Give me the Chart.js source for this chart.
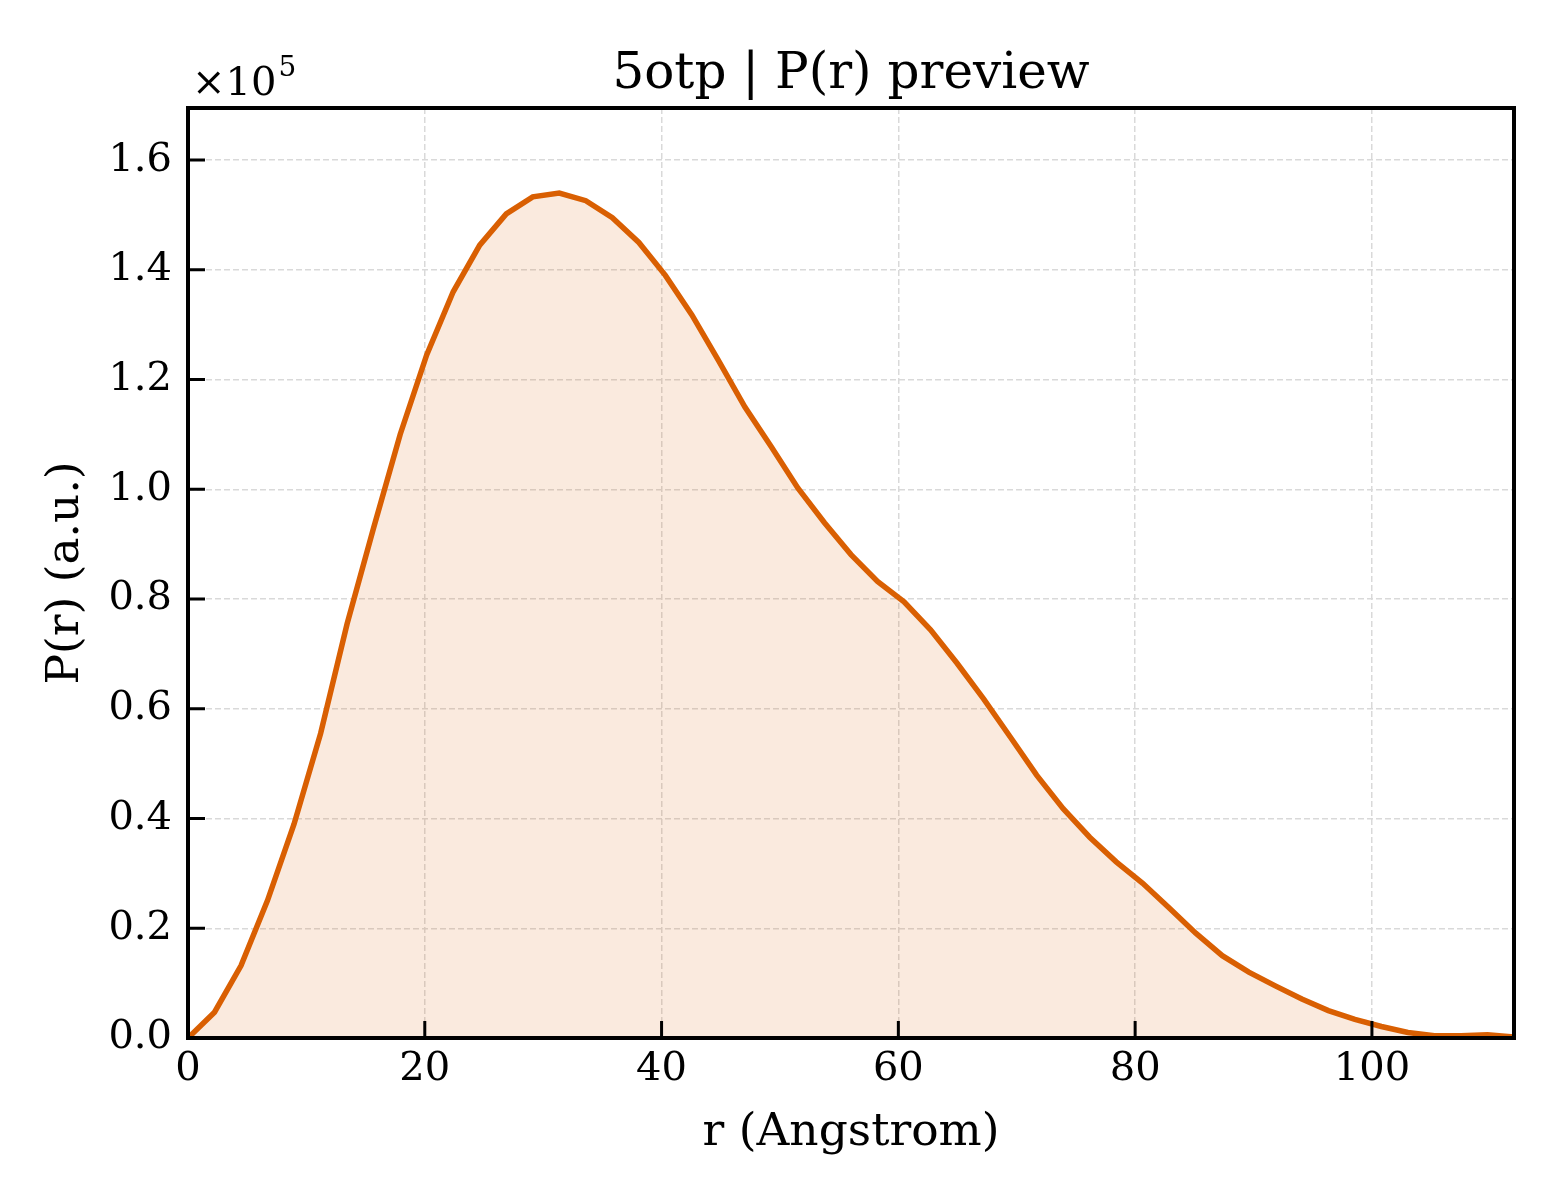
<!DOCTYPE html>
<html>
<head>
<meta charset="utf-8">
<script src="https://cdn.jsdelivr.net/npm/chart.js@4.4.1/dist/chart.umd.min.js"></script>
<style>
  html, body { margin: 0; padding: 0; background: #ffffff; }
  #wrap { width: 1560px; height: 1200px; }
</style>
</head>
<body>
<div id="wrap"><canvas id="prChart" width="1560" height="1200"></canvas></div>
<script>
const rValues = [
  0, 2.24, 4.48, 6.72, 8.96, 11.2, 13.44, 15.68, 17.92, 20.16,
  22.4, 24.64, 26.88, 29.12, 31.36, 33.6, 35.84, 38.08, 40.32, 42.56,
  44.8, 47.04, 49.28, 51.52, 53.76, 56, 58.24, 60.48, 62.72, 64.96,
  67.2, 69.44, 71.68, 73.92, 76.16, 78.4, 80.64, 82.88, 85.12, 87.36,
  89.6, 91.84, 94.08, 96.32, 98.56, 100.8, 103.04, 105.28, 107.52, 109.76, 112
];
const prValues = [
  0, 4700, 13200, 25100, 39000, 55500, 75500, 93000, 110000, 124500,
  136000, 144500, 150200, 153300, 154000, 152600, 149500, 145000, 139000, 131800,
  123500, 115000, 107700, 100200, 93900, 88100, 83200, 79500, 74400, 68300,
  61800, 54900, 47900, 41800, 36600, 32100, 28200, 23700, 19100, 15000,
  12000, 9500, 7100, 5000, 3400, 2100, 1000, 400, 400, 600, 200
];
const xTicks = [0, 20, 40, 60, 80, 100];
const yTicks = [0, 20000, 40000, 60000, 80000, 100000, 120000, 140000, 160000];

const serif = "'DejaVu Serif', serif";

// box around the plot, inward tick marks, title and the x10^5 offset label
const framePlugin = {
  id: 'frame',
  afterDraw(chart) {
    const {ctx, chartArea: a, scales} = chart;
    ctx.save();
    ctx.strokeStyle = '#000000';
    ctx.lineWidth = 3;
    ctx.beginPath();
    xTicks.forEach(v => {
      const px = scales.x.getPixelForValue(v);
      ctx.moveTo(px, a.bottom);
      ctx.lineTo(px, a.bottom - 17);
    });
    yTicks.forEach(v => {
      const py = scales.y.getPixelForValue(v);
      ctx.moveTo(a.left, py);
      ctx.lineTo(a.left + 17, py);
    });
    ctx.stroke();

    ctx.lineWidth = 4;
    ctx.strokeRect(a.left, a.top, a.right - a.left, a.bottom - a.top);

    ctx.fillStyle = '#000000';
    ctx.textBaseline = 'alphabetic';
    ctx.textAlign = 'center';
    ctx.font = '50px ' + serif;
    ctx.fillText('5otp | P(r) preview', (a.left + a.right) / 2, 88);

    ctx.textAlign = 'left';
    ctx.font = '40px ' + serif;
    ctx.fillText('\u00d710', a.left + 4, 95);
    const w = ctx.measureText('\u00d710').width;
    ctx.font = '28px ' + serif;
    ctx.fillText('5', a.left + 6 + w, 76);
    ctx.restore();
  }
};

const gridStyle = {
  color: '#d9d9d9',
  lineWidth: 1.5,
  drawTicks: false
};

new Chart(document.getElementById('prChart').getContext('2d'), {
  type: 'line',
  data: {
    datasets: [{
      label: 'P(r)',
      data: rValues.map((r, i) => ({x: r, y: prValues[i]})),
      borderColor: '#d95f02',
      borderWidth: 5.5,
      backgroundColor: 'rgba(217, 95, 2, 0.13)',
      fill: 'origin',
      pointRadius: 0,
      tension: 0
    }]
  },
  options: {
    responsive: false,
    devicePixelRatio: 1,
    animation: false,
    layout: { padding: { top: 108, right: 46, left: 0, bottom: 0 } },
    plugins: {
      legend: { display: false },
      tooltip: { enabled: false }
    },
    scales: {
      x: {
        type: 'linear',
        min: 0,
        max: 112,
        afterBuildTicks: (axis) => { axis.ticks = xTicks.map(v => ({value: v})); },
        afterFit: (axis) => { axis.height = 162; },
        ticks: {
          color: '#000000',
          font: { family: serif, size: 40 },
          padding: 8,
          maxRotation: 0,
          callback: (v) => String(v)
        },
        grid: gridStyle,
        border: { display: false, dash: [6, 3] },
        title: {
          display: true,
          text: 'r (Angstrom)',
          color: '#000000',
          font: { family: serif, size: 45.5 },
          padding: { top: 0, bottom: 40 }
        }
      },
      y: {
        min: 0,
        max: 169500,
        afterBuildTicks: (axis) => { axis.ticks = yTicks.map(v => ({value: v})); },
        afterFit: (axis) => { axis.width = 188; },
        ticks: {
          color: '#000000',
          font: { family: serif, size: 40 },
          padding: 16,
          callback: (v) => (v / 1e5).toFixed(1)
        },
        grid: gridStyle,
        border: { display: false, dash: [6, 3] },
        title: {
          display: true,
          text: 'P(r) (a.u.)',
          color: '#000000',
          font: { family: serif, size: 45.5 },
          padding: { top: 39, bottom: 0 }
        }
      }
    }
  },
  plugins: [framePlugin]
});
</script>
</body>
</html>
